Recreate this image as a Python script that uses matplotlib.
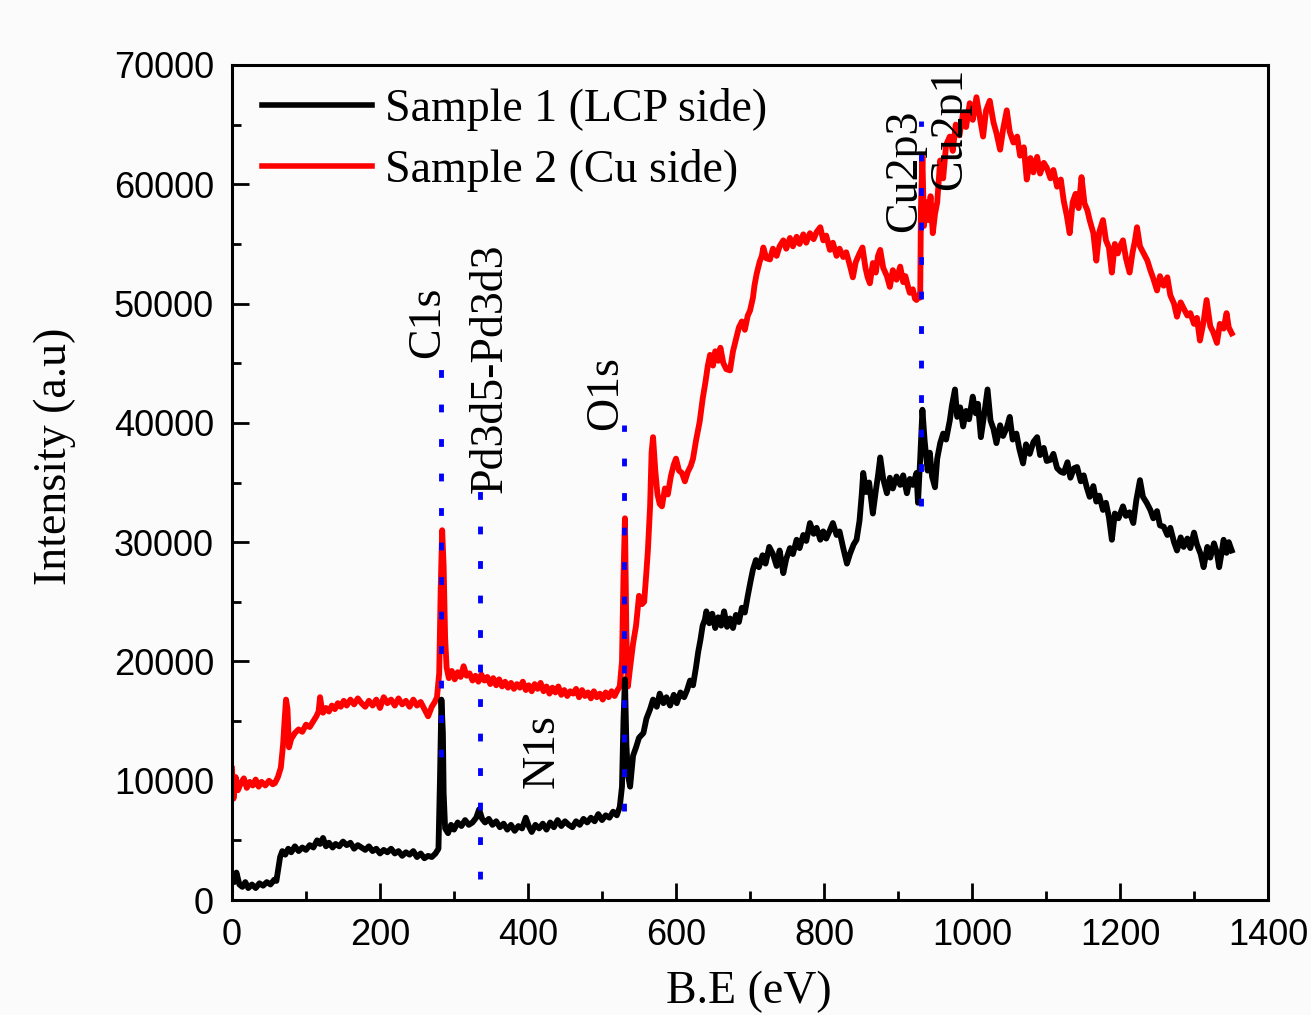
import numpy as np
import matplotlib
matplotlib.use('Agg')
import matplotlib.pyplot as plt
from matplotlib.ticker import MultipleLocator

# Sample 1 (LCP side) (B.E in eV, intensity in a.u.)
be1 = [0, 3, 6, 10, 14, 18, 22, 27, 32, 37, 42, 47, 52, 57, 60, 63, 65, 68, 72, 76,
       80, 85, 90, 95, 100, 105, 110, 115, 119, 123, 127, 131, 136, 140, 145, 150, 155, 160, 165, 170,
       175, 180, 185, 190, 195, 200, 205, 210, 215, 220, 225, 230, 235, 240, 245, 250, 255, 260, 265, 270,
       275, 279, 281, 283, 285, 286, 288, 292, 296, 300, 305, 310, 315, 320, 325, 330, 334, 338, 342, 347,
       352, 357, 362, 367, 372, 377, 382, 387, 392, 397, 401, 405, 410, 415, 420, 425, 430, 435, 440, 445,
       450, 455, 460, 465, 470, 475, 480, 485, 490, 495, 500, 505, 510, 515, 520, 524, 527, 529, 531, 533,
       535, 538, 542, 546, 550, 556, 560, 565, 569, 574, 578, 583, 587, 592, 597, 601, 606, 611, 615, 619,
       623, 627, 630, 633, 636, 639, 641, 645, 649, 653, 657, 661, 665, 669, 673, 677, 681, 685, 689, 693,
       697, 701, 704, 708, 712, 717, 721, 726, 731, 736, 740, 745, 749, 754, 758, 763, 767, 772, 776, 781,
       786, 790, 795, 799, 803, 808, 812, 817, 821, 826, 831, 835, 840, 844, 848, 851, 853, 857, 861, 866,
       870, 873, 876, 880, 885, 889, 893, 898, 903, 907, 912, 916, 920, 925, 927, 930, 933, 936, 940, 943,
       946, 950, 953, 957, 961, 965, 970, 973, 977, 980, 984, 988, 992, 996, 1001, 1005, 1008, 1012, 1016, 1021,
       1025, 1029, 1033, 1038, 1042, 1047, 1051, 1055, 1060, 1064, 1069, 1073, 1078, 1083, 1088, 1092, 1097, 1101, 1106, 1110,
       1115, 1120, 1124, 1129, 1133, 1138, 1142, 1147, 1151, 1155, 1159, 1164, 1168, 1172, 1177, 1181, 1185, 1189, 1193, 1198,
       1204, 1208, 1213, 1218, 1222, 1227, 1231, 1236, 1241, 1245, 1250, 1254, 1259, 1264, 1268, 1273, 1277, 1282, 1286, 1291,
       1295, 1300, 1304, 1309, 1313, 1318, 1322, 1327, 1331, 1334, 1337, 1340, 1344, 1347, 1351]
int1 = [2000, 1500, 2300, 1300, 1100, 1500, 1000, 1300, 1000, 1400, 1200, 1500, 1300, 1700, 1600, 2800, 3600, 4100, 3800, 4300,
        4000, 4500, 4100, 4400, 4200, 4600, 4400, 5000, 4700, 5200, 4500, 4800, 4400, 4700, 4500, 4900, 4600, 4800, 4300, 4600,
        4400, 4200, 4500, 4100, 4300, 3900, 4200, 4000, 4300, 3900, 4100, 3700, 4000, 3800, 4100, 3600, 3900, 3500, 3700, 3600,
        3900, 4300, 10000, 16800, 14000, 9000, 6000, 5600, 6300, 5900, 6500, 6200, 6700, 6300, 6500, 6900, 7600, 6800, 6500, 6800,
        6300, 6600, 6100, 6400, 5900, 6300, 5800, 6200, 6000, 6900, 6200, 5700, 6300, 6000, 6400, 5900, 6500, 6100, 6700, 6200,
        6600, 6300, 6100, 6600, 6300, 6800, 6500, 6900, 6600, 7200, 6700, 7100, 6900, 7400, 7100, 7800, 9500, 15000, 18500, 13000,
        10500, 9500, 12100, 12800, 13600, 14000, 15200, 16000, 16800, 16200, 17300, 16500, 17000, 16300, 17200, 16500, 17400, 17000, 17600, 18400,
        18000, 19500, 20800, 21800, 23000, 23500, 24200, 23200, 24000, 22800, 23700, 23000, 24200, 22900, 23600, 22800, 23900, 23300, 24500, 24100,
        25500, 26800, 27700, 28500, 27900, 28900, 28200, 29600, 29000, 28000, 29300, 27400, 28600, 29500, 29000, 30200, 29500, 30600, 30100, 31600,
        30700, 31200, 30200, 30900, 30300, 31000, 31600, 30600, 30900, 29500, 28200, 29000, 29800, 30200, 31800, 34000, 35800, 34200, 35000, 32400,
        34300, 35600, 37100, 35300, 34100, 35400, 34500, 35500, 34800, 35600, 34100, 35300, 34800, 35800, 33300, 37000, 41100, 38500, 36000, 37500,
        35500, 34600, 37000, 38300, 39100, 38600, 40200, 41500, 42800, 40500, 41300, 39700, 41000, 40300, 42200, 40800, 41600, 38800, 40500, 42800,
        40200, 39500, 38300, 39800, 38900, 39600, 40500, 38600, 39100, 37800, 36600, 38200, 37400, 38400, 38800, 37300, 37900, 36800, 36900, 37400,
        36200, 35900, 35800, 36700, 35400, 36200, 36300, 35100, 35600, 34600, 33800, 34700, 33400, 33900, 32700, 33300, 32100, 30200, 32400, 32000,
        33000, 32200, 32500, 31600, 33500, 35200, 33800, 33300, 32700, 32000, 32600, 31400, 31300, 30600, 31200, 30000, 29300, 30400, 29600, 30300,
        29500, 30800, 29800, 29000, 27900, 29600, 28700, 29900, 29100, 27900, 29000, 30200, 29100, 30000, 29300]

# Sample 2 (Cu side)
be2 = [0, 2, 5, 8, 12, 16, 20, 24, 28, 32, 36, 40, 45, 50, 55, 58, 62, 66, 69, 71,
       73, 75, 77, 80, 85, 90, 95, 100, 105, 110, 114, 117, 119, 121, 123, 127, 131, 135, 139, 143,
       147, 151, 155, 160, 165, 170, 175, 180, 185, 190, 195, 200, 205, 210, 215, 220, 225, 230, 235, 240,
       245, 250, 255, 260, 265, 270, 274, 277, 280, 282, 284, 286, 288, 290, 293, 297, 301, 305, 309, 313,
       317, 321, 325, 329, 333, 337, 341, 345, 349, 353, 357, 361, 365, 369, 373, 377, 381, 385, 389, 393,
       397, 401, 405, 409, 413, 417, 421, 425, 429, 433, 437, 441, 445, 449, 453, 457, 461, 465, 469, 473,
       477, 481, 485, 489, 493, 497, 501, 505, 509, 513, 517, 521, 524, 527, 529, 531, 533, 535, 538, 542,
       546, 550, 554, 557, 560, 562, 565, 567, 569, 572, 575, 578, 581, 585, 589, 593, 597, 600, 604, 608,
       612, 616, 620, 623, 627, 632, 636, 640, 643, 646, 650, 653, 657, 660, 664, 668, 673, 677, 681, 685,
       689, 693, 697, 700, 704, 706, 709, 713, 716, 718, 722, 727, 731, 736, 740, 745, 749, 754, 758, 763,
       767, 772, 776, 781, 786, 790, 795, 799, 803, 808, 812, 817, 821, 826, 830, 835, 839, 843, 848, 852,
       856, 859, 862, 866, 870, 873, 876, 880, 885, 889, 893, 898, 903, 907, 910, 914, 916, 920, 923, 925,
       928, 930, 931, 933, 935, 938, 941, 944, 947, 950, 953, 957, 961, 965, 970, 974, 978, 983, 988, 992,
       997, 1001, 1006, 1010, 1015, 1019, 1024, 1029, 1033, 1038, 1042, 1047, 1051, 1056, 1061, 1065, 1070, 1074, 1079, 1083,
       1088, 1092, 1097, 1101, 1106, 1110, 1115, 1120, 1124, 1128, 1132, 1136, 1140, 1144, 1148, 1152, 1156, 1159, 1164, 1168,
       1172, 1177, 1181, 1185, 1189, 1193, 1197, 1200, 1204, 1208, 1213, 1217, 1220, 1223, 1227, 1232, 1237, 1241, 1245, 1250,
       1254, 1259, 1264, 1268, 1273, 1277, 1282, 1286, 1291, 1295, 1300, 1304, 1308, 1313, 1317, 1322, 1326, 1331, 1335, 1340,
       1344, 1347, 1351]
int2 = [11000, 8500, 10300, 9200, 9800, 10200, 9400, 9900, 9600, 10100, 9500, 9900, 9600, 10000, 9700, 9800, 10300, 11100, 13000, 15000,
        16800, 16000, 12800, 13500, 14000, 14300, 14100, 14700, 14500, 15000, 15400, 15800, 17000, 16200, 15700, 16100, 15800, 16300, 16000, 16500,
        16200, 16700, 16300, 16800, 16400, 16900, 16500, 16200, 16700, 16300, 16800, 16100, 17000, 16500, 16800, 16300, 16900, 16400, 16700, 16200,
        16800, 16300, 16600, 16000, 15400, 16200, 16600, 17000, 19000, 26000, 31000, 28000, 22000, 19500, 18600, 19200, 18500, 19100, 18700, 19600,
        18800, 19000, 18400, 18800, 18300, 18900, 18400, 18700, 18100, 18600, 18000, 18500, 17900, 18300, 17800, 18200, 17700, 18100, 17800, 18300,
        17600, 18000, 17500, 18100, 17700, 18200, 17500, 17900, 17300, 17800, 17400, 17900, 17200, 17600, 17100, 17500, 17300, 17700, 17000, 17600,
        17100, 17400, 16900, 17500, 17000, 17300, 16800, 17400, 17000, 17500, 17100, 17600, 17900, 20000, 27000, 32000, 22000, 17900, 19500, 21500,
        23000, 25500, 24800, 25000, 27500, 29300, 33000, 37500, 38800, 36000, 34000, 33200, 33000, 34500, 34000, 35500, 36500, 37000, 36000, 35800,
        35100, 35900, 36400, 37000, 38500, 40100, 42000, 43500, 44800, 45700, 44800, 46000, 45200, 46300, 45000, 44500, 44400, 46000, 47000, 48000,
        48500, 47800, 49000, 49400, 50500, 51500, 52500, 53500, 54000, 54700, 53800, 53700, 54600, 54000, 54800, 55300, 54600, 55500, 54800, 55600,
        55000, 55800, 55100, 55900, 55400, 56000, 56400, 55300, 55700, 54500, 55100, 54000, 54600, 53900, 54300, 53200, 52200, 53500, 54200, 54700,
        53000, 52200, 51700, 53400, 52600, 54000, 54500, 53000, 52300, 51400, 52800, 52000, 53100, 51800, 52300, 51300, 50900, 51200, 50400, 50300,
        50700, 50500, 58000, 62300, 56500, 58500, 57000, 59000, 55900, 57500, 58500, 62000, 60500, 63300, 64000, 62800, 65000, 64100, 66000, 64800,
        66800, 65400, 67300, 65800, 64000, 66200, 67000, 65200, 64300, 62900, 64600, 66200, 64400, 63500, 64000, 62400, 63100, 60400, 62200, 61000,
        62300, 60900, 61800, 61400, 60500, 61200, 59800, 60400, 58600, 57400, 55900, 58500, 59200, 58000, 60600, 58400, 57800, 57000, 55900, 53600,
        56000, 57000, 55300, 54700, 52600, 55000, 54200, 54800, 55300, 53800, 52600, 54300, 55200, 56400, 54800, 54200, 53600, 52800, 52100, 51100,
        52300, 51500, 52200, 50700, 50000, 48900, 50100, 49600, 49000, 49200, 48300, 48800, 46900, 48500, 50300, 48100, 47600, 46700, 48300, 47900,
        49200, 48000, 47500]

# dotted guide lines at the assigned peaks
peak_be = [282, 335, 530, 931]
peak_lo = [12000, 1800, 7500, 33000]
peak_hi = [45000, 34500, 39800, 65300]
# peak labels (x = label centre, y = label bottom)
label_names = ['C1s', 'Pd3d5-Pd3d3', 'O1s', 'N1s', 'Cu2p3', 'Cu2p1']
label_x = [265, 349, 505, 420, 909, 970]
label_y = [45400, 34100, 39400, 9400, 56000, 59500]

serif = ['Liberation Serif', 'DejaVu Serif']
sans = ['Liberation Sans', 'DejaVu Sans']

fig = plt.figure(figsize=(13.11, 10.15), dpi=100, facecolor='#fbfbfb')
ax = fig.add_axes([232/1311, 115/1015, 1036/1311, 835/1015])
ax.set_facecolor('#fbfbfb')

ax.plot(be1, int1, color='black', lw=4.2, label='Sample 1 (LCP side)', zorder=3)
ax.plot(be2, int2, color='red', lw=4.2, label='Sample 2 (Cu side)', zorder=2)

for b, lo, hi in zip(peak_be, peak_lo, peak_hi):
    ax.plot([b, b], [lo, hi], color='blue', lw=3.5, dashes=(1.6, 5.5), zorder=5)

for name, x, y in zip(label_names, label_x, label_y):
    ax.text(x, y, name, rotation=90, ha='center', va='bottom', fontsize=33,
            family=serif, zorder=6)

ax.set_xlim(0, 1400)
ax.set_ylim(0, 70000)
ax.xaxis.set_major_locator(MultipleLocator(200))
ax.xaxis.set_minor_locator(MultipleLocator(100))
ax.yaxis.set_major_locator(MultipleLocator(10000))
ax.yaxis.set_minor_locator(MultipleLocator(5000))
ax.tick_params(which='both', direction='in', width=2, top=False, right=False,
               labelsize=26, pad=13)
ax.tick_params(which='major', length=12)
ax.tick_params(which='minor', length=6.5)
for lab in ax.get_xticklabels() + ax.get_yticklabels():
    lab.set_family(sans)
for sp in ax.spines.values():
    sp.set_linewidth(2.2)

fig.text(55/1311, 1 - 456/1015, 'Intensity (a.u)', rotation=90, ha='center', va='center',
         fontsize=33, family=serif)
fig.text(749/1311, 12/1015, 'B.E (eV)', ha='center', va='baseline', fontsize=33, family=serif)

leg = ax.legend(loc='upper left', bbox_to_anchor=(0.029, 0.972), frameon=False,
                prop={'family': serif, 'size': 33}, handlelength=2.4, handletextpad=0.28,
                labelspacing=0.39, borderaxespad=0, borderpad=0)
for h in leg.get_lines():
    h.set_linewidth(4)

fig.savefig('out.png', dpi=100, facecolor=fig.get_facecolor())
